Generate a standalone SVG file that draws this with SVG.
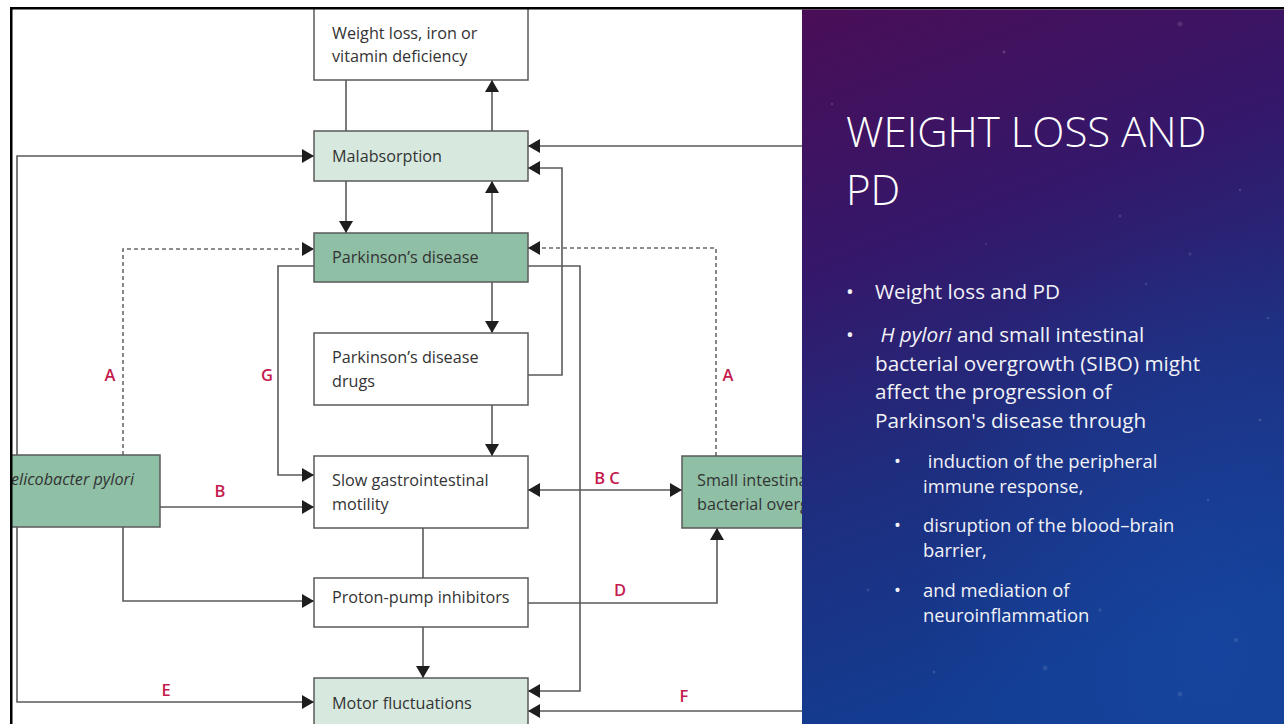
<svg xmlns="http://www.w3.org/2000/svg" width="1284" height="724" viewBox="0 0 1284 724">
  <defs>
    <style>
      .box { stroke: #5a5a5a; stroke-width: 1.5; }
      .white { fill: #ffffff; }
      .light { fill: #d7e9df; }
      .dark { fill: #8fbfa5; }
      .lbl { font-family: "Open Sans", "Noto Sans", sans-serif; font-size: 16.2px; fill: #333333; }
      .conn { fill: none; stroke: #5a5a5a; stroke-width: 1.6; }
      .arrow { marker-end: url(#head); }
      .dash { stroke-dasharray: 4 3; stroke: #6a6a6a; }
      .key { font-family: "Open Sans", "Noto Sans", sans-serif; font-size: 16.5px; font-weight: 600; fill: #c41a4e; text-anchor: middle; }
      .title { font-family: "Open Sans", "Noto Sans", sans-serif; font-weight: 300; font-size: 42px; fill: #ffffff; }
      .body { font-family: "Open Sans", "Noto Sans", sans-serif; font-size: 20.7px; fill: #f2f2f7; }
      .sub { font-family: "Open Sans", "Noto Sans", sans-serif; font-size: 18.4px; fill: #f2f2f7; }
      .star { fill: #ffffff; }
    </style>
    <marker id="head" viewBox="0 0 12 14" refX="12" refY="7" markerWidth="12" markerHeight="14" markerUnits="userSpaceOnUse" orient="auto-start-reverse">
      <path d="M0,0 L12,7 L0,14 z" fill="#1e1e1e"/>
    </marker>
    <linearGradient id="sky" x1="0" y1="0" x2="0.25" y2="1">
      <stop offset="0" stop-color="#4a0e57"/>
      <stop offset="0.35" stop-color="#35176a"/>
      <stop offset="0.65" stop-color="#1f2d7e"/>
      <stop offset="1" stop-color="#123d92"/>
    </linearGradient>
    <radialGradient id="glow" cx="0.85" cy="0.9" r="0.6">
      <stop offset="0" stop-color="#1a4aa8" stop-opacity="0.5"/>
      <stop offset="1" stop-color="#1a4aa8" stop-opacity="0"/>
    </radialGradient>
  </defs>

  <rect x="0" y="0" width="1284" height="724" fill="#ffffff"/>

  <!-- connectors -->
  <g id="connectors">
    <path class="conn arrow" d="M492,131 V80"/>
    <path class="conn" d="M346,80 V131"/>
    <path class="conn arrow" d="M346,181 V233"/>
    <path class="conn arrow" d="M492,233 V181"/>
    <path class="conn arrow" d="M492,282 V333"/>
    <path class="conn arrow" d="M492,405 V456"/>
    <path class="conn arrow" d="M528,375 H562 V168 H528"/>
    <path class="conn arrow" d="M802,146 H528"/>
    <path class="conn arrow" d="M17,455 V156 H314"/>
    <path class="conn dash arrow" d="M123,455 V249 H314"/>
    <path class="conn arrow" d="M314,266 H278 V475 H314"/>
    <path class="conn dash arrow" d="M716,456 V248 H528"/>
    <path class="conn arrow" d="M528,266 H580 V691 H528"/>
    <path class="conn arrow" d="M160,507 H314"/>
    <path class="conn arrow" d="M528,490 H682" marker-start="url(#head)"/>
    <path class="conn arrow" d="M123,527 V601 H314"/>
    <path class="conn" d="M423,528 V578"/>
    <path class="conn arrow" d="M423,627 V678"/>
    <path class="conn arrow" d="M528,603 H717 V528"/>
    <path class="conn arrow" d="M802,711 H528"/>
    <path class="conn arrow" d="M17,527 V702 H314"/>

    <text class="key" x="110" y="381">A</text>
    <text class="key" x="267" y="381">G</text>
    <text class="key" x="728" y="381">A</text>
    <text class="key" x="220" y="497">B</text>
    <text class="key" x="607" y="484">B C</text>
    <text class="key" x="620" y="596">D</text>
    <text class="key" x="166" y="696">E</text>
    <text class="key" x="684" y="702">F</text>
  </g>

  <!-- nodes -->
  <g id="weight-loss">
    <rect class="box white" x="314" y="8" width="214" height="72"/>
    <text class="lbl" x="332" y="38.5">Weight loss, iron or</text>
    <text class="lbl" x="332" y="62">vitamin deficiency</text>
  </g>
  <g id="malabsorption">
    <rect class="box light" x="314" y="131" width="214" height="50"/>
    <text class="lbl" x="332" y="162">Malabsorption</text>
  </g>
  <g id="parkinsons">
    <rect class="box dark" x="314" y="233" width="214" height="49"/>
    <text class="lbl" x="332" y="263">Parkinson’s disease</text>
  </g>
  <g id="pd-drugs">
    <rect class="box white" x="314" y="333" width="214" height="72"/>
    <text class="lbl" x="332" y="363">Parkinson’s disease</text>
    <text class="lbl" x="332" y="387">drugs</text>
  </g>
  <g id="slow-motility">
    <rect class="box white" x="314" y="456" width="214" height="72"/>
    <text class="lbl" x="332" y="486">Slow gastrointestinal</text>
    <text class="lbl" x="332" y="510">motility</text>
  </g>
  <g id="ppi">
    <rect class="box white" x="314" y="578" width="214" height="49"/>
    <text class="lbl" x="332" y="603">Proton-pump inhibitors</text>
  </g>
  <g id="motor">
    <rect class="box light" x="314" y="678" width="214" height="60"/>
    <text class="lbl" x="332" y="709">Motor fluctuations</text>
  </g>
  <g id="h-pylori">
    <rect class="box dark" x="11" y="455" width="149" height="72"/>
    <text class="lbl" x="11" y="485" font-style="italic">elicobacter pylori</text>
  </g>
  <g id="sibo">
    <rect class="box dark" x="682" y="456" width="140" height="72"/>
    <text class="lbl" x="697" y="486">Small intestina</text>
    <text class="lbl" x="697" y="510">bacterial overg</text>
  </g>

  <!-- frame edges -->
  <rect x="10" y="7" width="1274" height="2.5" fill="#000000"/>
  <rect x="10" y="7" width="2.5" height="717" fill="#000000"/>

  <!-- slide panel -->
  <g id="slide">
    <rect x="802" y="9.5" width="482" height="714.5" fill="url(#sky)"/>
    <rect x="802" y="9.5" width="482" height="714.5" fill="url(#glow)"/>
    <g class="star">
      <circle cx="1180" cy="24" r="2.5" opacity="0.12"/>
      <circle cx="1004" cy="52" r="1.5" opacity="0.18"/>
      <circle cx="832" cy="104" r="1.2" opacity="0.15"/>
      <circle cx="1120" cy="216" r="1.5" opacity="0.14"/>
      <circle cx="986" cy="244" r="1.2" opacity="0.12"/>
      <circle cx="1240" cy="190" r="1.3" opacity="0.15"/>
      <circle cx="1190" cy="254" r="1.6" opacity="0.12"/>
      <circle cx="1146" cy="284" r="1.2" opacity="0.14"/>
      <circle cx="1260" cy="420" r="1.5" opacity="0.15"/>
      <circle cx="1208" cy="500" r="1.2" opacity="0.14"/>
      <circle cx="1236" cy="640" r="2" opacity="0.12"/>
      <circle cx="1045" cy="668" r="2.5" opacity="0.1"/>
      <circle cx="1180" cy="694" r="2.5" opacity="0.1"/>
      <circle cx="868" cy="590" r="1.5" opacity="0.12"/>
      <circle cx="934" cy="672" r="1.5" opacity="0.12"/>
      <circle cx="1268" cy="318" r="1.2" opacity="0.15"/>
      <circle cx="1100" cy="610" r="1.8" opacity="0.1"/>
    </g>

    <text class="title" x="846" y="147">WEIGHT LOSS AND</text>
    <text class="title" x="846" y="205">PD</text>

    <text class="body" x="846" y="299">•</text>
    <text class="body" x="875" y="299">Weight loss and PD</text>

    <text class="body" x="846" y="342">•</text>
    <text class="body" x="875" y="342" xml:space="preserve"> <tspan font-style="italic">H pylori</tspan> and small intestinal</text>
    <text class="body" x="875" y="371">bacterial overgrowth (SIBO) might</text>
    <text class="body" x="875" y="399">affect the progression of</text>
    <text class="body" x="875" y="428">Parkinson's disease through</text>

    <text class="sub" x="894" y="468">•</text>
    <text class="sub" x="923" y="468" xml:space="preserve"> induction of the peripheral</text>
    <text class="sub" x="923" y="493">immune response,</text>

    <text class="sub" x="894" y="532">•</text>
    <text class="sub" x="923" y="532">disruption of the blood–brain</text>
    <text class="sub" x="923" y="557">barrier,</text>

    <text class="sub" x="894" y="597">•</text>
    <text class="sub" x="923" y="597">and mediation of</text>
    <text class="sub" x="923" y="622">neuroinflammation</text>
  </g>
</svg>
